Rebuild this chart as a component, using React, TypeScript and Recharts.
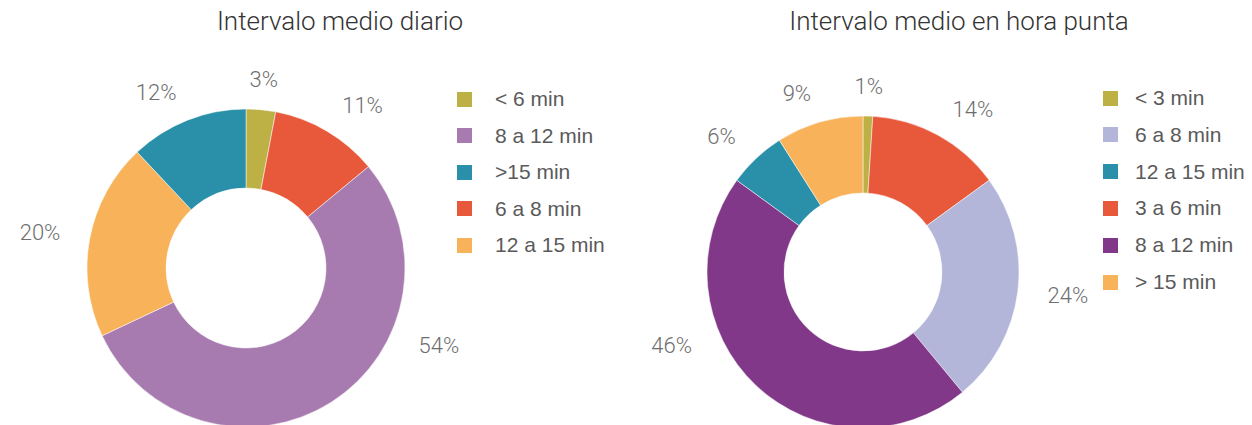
import { Cell, Pie, PieChart } from 'recharts';

// slices in clockwise order starting at 12 o'clock
const dailyCategories = ['< 6 min', '6 a 8 min', '8 a 12 min', '12 a 15 min', '>15 min'];
const dailyValues = [3, 11, 54, 20, 12];
const dailyColors = ['#BDB045', '#E8583A', '#A87BB0', '#F7B25A', '#2A8FA8'];
const dailyLegend = ['< 6 min', '8 a 12 min', '>15 min', '6 a 8 min', '12 a 15 min'];

const peakCategories = ['< 3 min', '3 a 6 min', '6 a 8 min', '8 a 12 min', '12 a 15 min', '> 15 min'];
const peakValues = [1, 14, 24, 46, 6, 9];
const peakColors = ['#BDB045', '#E8583A', '#B3B5D9', '#813889', '#2A8FA8', '#F7B25A'];
const peakLegend = ['< 3 min', '6 a 8 min', '12 a 15 min', '3 a 6 min', '8 a 12 min', '> 15 min'];

const titles = ['Intervalo medio diario', 'Intervalo medio en hora punta'];

const RAD = Math.PI / 180;

const toRows = (cats: string[], vals: number[], colors: string[]) =>
    cats.map((name, i) => ({ name, value: vals[i], color: colors[i] }));

const dailyData = toRows(dailyCategories, dailyValues, dailyColors);
const peakData = toRows(peakCategories, peakValues, peakColors);

function renderLabel(props: any) {
    const { cx, cy, midAngle, outerRadius, value } = props;
    const r = outerRadius + 30;
    let x = cx + r * Math.cos(-midAngle * RAD);
    let y = cy + r * Math.sin(-midAngle * RAD);
    // keep the bottom labels inside the picture
    const maxY = 345;
    if (y > maxY) {
        y = maxY;
        const dx = Math.sqrt(r * r - (y - cy) * (y - cy));
        x = x >= cx ? cx + dx : cx - dx;
    }
    const dxc = x - cx;
    const anchor = Math.abs(dxc) < 25 ? 'middle' : dxc > 0 ? 'start' : 'end';
    return (
        <text
            x={x}
            y={y}
            fill="#6e6e6e"
            fontSize={22}
            fontWeight={300}
            fontFamily="Roboto, 'Liberation Sans', sans-serif"
            textAnchor={anchor}
            dominantBaseline="central"
        >
            {`${value}%`}
        </text>
    );
}

function LegendBox({ items, data, left, top, step, gap }: { items: string[]; data: { name: string; color: string }[]; left: number; top: number; step: number; gap: number }) {
    return (
        <div style={{ position: 'absolute', left, top }}>
            {items.map((name, i) => {
                const color = data.find((d) => d.name === name)?.color;
                return (
                    <div
                        key={name}
                        style={{ position: 'absolute', top: i * step, left: 0, display: 'flex', alignItems: 'center', whiteSpace: 'nowrap', height: 24 }}
                    >
                        <div style={{ width: 15, height: 15, background: color }} />
                        <span style={{ marginLeft: gap, fontSize: 21, color: '#5a5a5a', fontFamily: "'Liberation Sans', Arial, sans-serif" }}>{name}</span>
                    </div>
                );
            })}
        </div>
    );
}

export default function App() {
    const titleStyle = {
        position: 'absolute' as const,
        top: 6,
        fontSize: 26,
        fontWeight: 300,
        color: '#333',
        fontFamily: "Roboto, 'Liberation Sans', sans-serif",
        transform: 'translateX(-50%)',
        whiteSpace: 'nowrap' as const,
    };
    return (
        <div style={{ position: 'absolute', left: 0, top: 0, width: 1252, height: 425, background: '#fff', overflow: 'hidden' }}>
            <PieChart width={1252} height={425} margin={{ top: 0, right: 0, bottom: 0, left: 0 }} style={{ position: 'absolute', left: 0, top: 0 }}>
                <Pie
                    data={dailyData}
                    dataKey="value"
                    nameKey="name"
                    cx={246}
                    cy={268}
                    innerRadius={80}
                    outerRadius={159}
                    startAngle={90}
                    endAngle={-270}
                    stroke="#fff"
                    strokeWidth={0.5}
                    label={renderLabel}
                    labelLine={false}
                    isAnimationActive={false}
                >
                    {dailyData.map((d) => (
                        <Cell key={d.name} fill={d.color} />
                    ))}
                </Pie>
                <Pie
                    data={peakData}
                    dataKey="value"
                    nameKey="name"
                    cx={863}
                    cy={272}
                    innerRadius={79}
                    outerRadius={156}
                    startAngle={90}
                    endAngle={-270}
                    stroke="#fff"
                    strokeWidth={0.5}
                    label={renderLabel}
                    labelLine={false}
                    isAnimationActive={false}
                >
                    {peakData.map((d) => (
                        <Cell key={d.name} fill={d.color} />
                    ))}
                </Pie>
            </PieChart>
            <div style={{ ...titleStyle, left: 340 }}>{titles[0]}</div>
            <div style={{ ...titleStyle, left: 959 }}>{titles[1]}</div>
            <LegendBox items={dailyLegend} data={dailyData} left={457} top={87} step={36.6} gap={23} />
            <LegendBox items={peakLegend} data={peakData} left={1103} top={86} step={36.8} gap={17} />
        </div>
    );
}
